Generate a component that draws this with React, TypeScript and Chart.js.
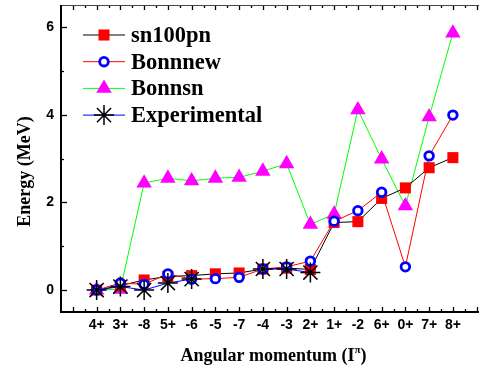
import React, { useEffect, useRef } from 'react';
import { Chart, registerables } from 'chart.js';
import { drawPoint } from 'chart.js/helpers';

Chart.register(...registerables);

const categories = ['4+', '3+', '-8', '5+', '-6', '-5', '-7', '-4', '-3', '2+', '1+', '-2', '6+', '0+', '7+', '8+'];
const sn100pn = [0, 0.1, 0.23, 0.31, 0.33, 0.37, 0.39, 0.48, 0.5, 0.47, 1.54, 1.56, 2.09, 2.33, 2.79, 3.02];
const bonnnew = [0, 0.16, 0.13, 0.37, 0.25, 0.26, 0.29, 0.48, 0.53, 0.66, 1.57, 1.81, 2.23, 0.53, 3.06, 3.99];
const bonnsn = [0, 0.02, 2.44, 2.55, 2.49, 2.55, 2.57, 2.71, 2.88, 1.5, 1.73, 4.11, 2.99, 1.92, 3.95, 5.86];
const experimental: (number | null)[] = [0, 0.08, 0, 0.16, 0.25, null, null, 0.48, 0.48, 0.4, null, null, null, null, null, null];
const yTickValues = [0, 2, 4, 6];
const seriesNames = ['sn100pn', 'Bonnnew', 'Bonnsn', 'Experimental'];
const xTitle = 'Angular momentum (I';
const xTitleSup = 'π';
const xTitleEnd = ')';
const yTitle = 'Energy (MeV)';

const SERIF = '"Liberation Serif", "Times New Roman", serif';
const SANS = '"Liberation Sans", Arial, sans-serif';

const toPoints = (arr: (number | null)[]) => arr.map((v, i) => ({ x: i, y: v }));

const framePlugin = {
  id: 'frame',
  afterDraw(chart: any) {
    const { ctx, chartArea: a, scales } = chart;
    const xs = scales.x;
    const ys = scales.y;
    ctx.save();
    ctx.strokeStyle = '#000';
    ctx.lineWidth = 1.3;
    for (let v = -1.5; v <= 16.01; v += 0.5) {
      const px = Math.round(xs.getPixelForValue(v)) + 0.5;
      if (px < a.left + 1 || px > a.right) continue;
      const len = Number.isInteger(v) ? 5 : 3;
      ctx.beginPath();
      ctx.moveTo(px, a.bottom);
      ctx.lineTo(px, a.bottom - len);
      ctx.moveTo(px, a.top);
      ctx.lineTo(px, a.top + len);
      ctx.stroke();
    }
    for (let v = 0; v <= 6; v += 1) {
      const py = Math.round(ys.getPixelForValue(v)) + 0.5;
      const len = v % 2 === 0 ? 6 : 3;
      ctx.beginPath();
      ctx.moveTo(a.left, py);
      ctx.lineTo(a.left + len, py);
      ctx.stroke();
    }
    ctx.strokeStyle = '#444';
    ctx.lineWidth = 1;
    ctx.beginPath();
    ctx.moveTo(a.left, a.top + 0.5);
    ctx.lineTo(a.right, a.top + 0.5);
    ctx.stroke();
    ctx.strokeStyle = '#000';
    ctx.lineWidth = 2;
    ctx.beginPath();
    ctx.moveTo(a.left, a.top);
    ctx.lineTo(a.left, a.bottom);
    ctx.lineTo(a.right, a.bottom);
    ctx.stroke();
    ctx.restore();
  },
};

const textPlugin = {
  id: 'texts',
  afterDraw(chart: any) {
    const { ctx } = chart;
    ctx.save();
    chart.data.datasets.forEach((ds: any, i: number) => {
      const y = 35 + i * 26.7;
      ctx.strokeStyle = ds.borderColor;
      ctx.lineWidth = 1;
      ctx.beginPath();
      ctx.moveTo(83, y);
      ctx.lineTo(125, y);
      ctx.stroke();
      ctx.fillStyle = ds.pointBackgroundColor;
      ctx.strokeStyle = ds.pointBorderColor;
      ctx.lineWidth = ds.pointBorderWidth;
      drawPoint(ctx, { pointStyle: ds.pointStyle, radius: ds.pointRadius, borderWidth: ds.pointBorderWidth, rotation: 0 } as any, 104, y);
      ctx.fillStyle = '#000';
      ctx.font = `bold 22.5px ${SERIF}`;
      ctx.textAlign = 'left';
      ctx.textBaseline = 'middle';
      ctx.fillText(ds.label, 131, y + 1);
    });
    ctx.save();
    ctx.translate(30, 171.5);
    ctx.rotate(-Math.PI / 2);
    ctx.font = `bold 18px ${SERIF}`;
    ctx.textAlign = 'center';
    ctx.textBaseline = 'alphabetic';
    ctx.fillStyle = '#000';
    ctx.fillText(yTitle, 0, 0);
    ctx.restore();
    ctx.font = `bold 18px ${SERIF}`;
    const w1 = ctx.measureText(xTitle).width;
    const w3 = ctx.measureText(xTitleEnd).width;
    ctx.font = `bold 11px ${SERIF}`;
    const w2 = ctx.measureText(xTitleSup).width;
    const total = w1 + w2 + w3;
    const x0 = 273.5 - total / 2;
    const base = 361;
    ctx.textAlign = 'left';
    ctx.textBaseline = 'alphabetic';
    ctx.fillStyle = '#000';
    ctx.font = `bold 18px ${SERIF}`;
    ctx.fillText(xTitle, x0, base);
    ctx.font = `bold 11px ${SERIF}`;
    ctx.fillText(xTitleSup, x0 + w1, base - 8);
    ctx.font = `bold 18px ${SERIF}`;
    ctx.fillText(xTitleEnd, x0 + w1 + w2, base);
    ctx.restore();
  },
};

export default function App() {
  const ref = useRef<HTMLCanvasElement>(null);
  useEffect(() => {
    document.body.style.margin = '0';
    const chart = new Chart(ref.current as HTMLCanvasElement, {
      type: 'line',
      data: {
        datasets: [
          {
            label: seriesNames[0],
            data: toPoints(sn100pn),
            borderColor: '#000000',
            borderWidth: 1,
            pointStyle: 'rect',
            pointRadius: 7.8,
            pointBackgroundColor: '#ff0000',
            pointBorderColor: '#ff0000',
            pointBorderWidth: 0,
            order: 2,
          },
          {
            label: seriesNames[1],
            data: toPoints(bonnnew),
            borderColor: '#ff0000',
            borderWidth: 1,
            pointStyle: 'circle',
            pointRadius: 4.3,
            pointBackgroundColor: '#ffffff',
            pointBorderColor: '#0000ff',
            pointBorderWidth: 2.8,
            order: 1,
          },
          {
            label: seriesNames[2],
            data: toPoints(bonnsn),
            borderColor: '#00ff00',
            borderWidth: 1,
            pointStyle: 'triangle',
            pointRadius: 8.9,
            pointBackgroundColor: '#ff00ff',
            pointBorderColor: '#ff00ff',
            pointBorderWidth: 0,
            order: 3,
          },
          {
            label: seriesNames[3],
            data: toPoints(experimental),
            borderColor: '#0000ff',
            borderWidth: 1,
            pointStyle: 'star',
            pointRadius: 10,
            pointBackgroundColor: '#000000',
            pointBorderColor: '#000000',
            pointBorderWidth: 1.5,
            spanGaps: false,
            order: 0,
          },
        ] as any,
      },
      options: {
        responsive: false,
        animation: false,
        layout: { autoPadding: false, padding: { top: 5, right: 0, left: 0, bottom: 0 } },
        plugins: { legend: { display: false }, tooltip: { enabled: false } },
        scales: {
          x: {
            type: 'linear',
            min: -1.5,
            max: 16.1,
            grid: { display: false, drawTicks: false },
            border: { display: false },
            afterBuildTicks: (s: any) => {
              s.ticks = categories.map((_, i) => ({ value: i }));
            },
            afterFit: (s: any) => {
              s.height = 57;
              s.paddingLeft = 0;
              s.paddingRight = 0;
            },
            ticks: {
              autoSkip: false,
              maxRotation: 0,
              padding: 5,
              color: '#000',
              font: { family: SANS, size: 14, weight: 'bold' },
              callback: (v: any) => categories[Math.round(Number(v))] ?? '',
            },
          },
          y: {
            type: 'linear',
            min: -0.5,
            max: 6.5,
            grid: { display: false, drawTicks: false },
            border: { display: false },
            afterBuildTicks: (s: any) => {
              s.ticks = yTickValues.map((v) => ({ value: v }));
            },
            afterFit: (s: any) => {
              s.width = 61;
              s.paddingTop = 0;
              s.paddingBottom = 0;
            },
            ticks: {
              padding: 7,
              color: '#000',
              font: { family: SANS, size: 14, weight: 'bold' },
              callback: (v: any) => String(v),
            },
          },
        },
      } as any,
      plugins: [framePlugin, textPlugin],
    });
    return () => chart.destroy();
  }, []);
  return (
    <div style={{ position: 'absolute', left: 0, top: 0, width: 479, height: 369, background: '#fff' }}>
      <canvas ref={ref} width={479} height={369} />
    </div>
  );
}
